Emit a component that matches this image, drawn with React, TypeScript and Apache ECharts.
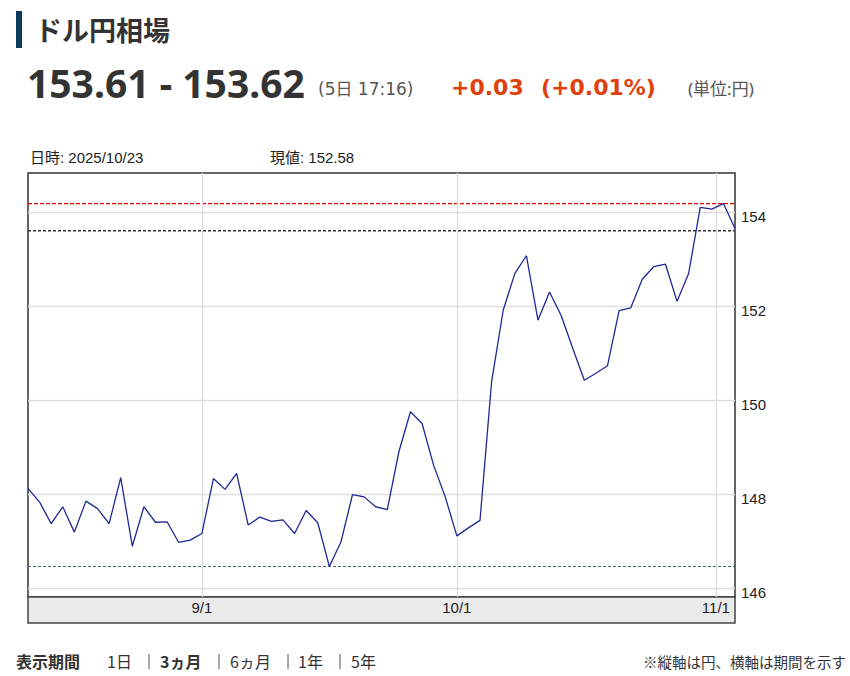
import React, { useEffect, useRef } from "react";
import * as echarts from "echarts";

// Business-day closes, 2025-08-11 .. 2025-11-04
const values = [
  148.13, 147.84, 147.38, 147.74, 147.2, 147.86, 147.7, 147.38, 148.36, 146.9,
  147.74, 147.41, 147.42, 146.98, 147.03, 147.17, 148.34, 148.11, 148.45, 147.35,
  147.52, 147.43, 147.46, 147.17, 147.66, 147.4, 146.47, 146.99, 148.0, 147.95,
  147.74, 147.68, 148.91, 149.76, 149.51, 148.62, 147.95, 147.12, 147.29, 147.45,
  150.4, 151.92, 152.7, 153.08, 151.71, 152.31, 151.81, 151.11, 150.43, 150.58,
  150.74, 151.91, 151.97, 152.58, 152.85, 152.9, 152.11, 152.7, 154.11, 154.07,
  154.19, 153.66,
];
const tickLabels = ["9/1", "10/1", "11/1"];
const tickPositions = [15, 37, 59.35];
const yTicks = [146, 148, 150, 152, 154];
const yMin = 145.82;
const yMax = 154.84;
const currentBid = 153.61;

const navItems = [
  { text: "表示期間", x: 16, bold: true },
  { text: "1日", x: 107, bold: false },
  { text: "3ヵ月", x: 160, bold: true },
  { text: "6ヵ月", x: 230, bold: false },
  { text: "1年", x: 298, bold: false },
  { text: "5年", x: 351, bold: false },
];
const navSeparators = [149, 219, 288, 340];

const SANS = "'Noto Sans', 'Noto Sans CJK JP', sans-serif";
const WIDE = "'DejaVu Sans', 'Noto Sans CJK JP', sans-serif";
const ARIAL = "'Liberation Sans', 'Noto Sans CJK JP', sans-serif";
const CJK = "'Noto Sans CJK JP', sans-serif";

export default function App() {
  const ref = useRef<HTMLDivElement>(null);
  useEffect(() => {
    document.body.style.margin = "0";
    const chart = echarts.init(ref.current!, null, { renderer: "svg" });
    const data = values.map((v, i) => [i, v]);
    const lastIdx = values.length - 1;
    const graphics: any[] = [
      { type: "rect", shape: { x: 16, y: 11, width: 6, height: 37 }, style: { fill: "#0e3b5c" } },
      { type: "text", x: 35, y: 29, style: { text: "ドル円相場", font: `bold 27px ${CJK}`, fill: "#333", verticalAlign: "middle" } },
      { type: "text", x: 27, y: 82, style: { text: "153.61 - 153.62", font: `bold 39px ${SANS}`, fill: "#333", verticalAlign: "middle" } },
      { type: "text", x: 318, y: 89, style: { text: "(5日 17:16)", font: `17px ${WIDE}`, fill: "#555", verticalAlign: "middle" } },
      { type: "text", x: 451, y: 87, style: { text: "+0.03", font: `bold 22px ${WIDE}`, fill: "#e0400c", verticalAlign: "middle" } },
      { type: "text", x: 541, y: 87, style: { text: "(+0.01%)", font: `bold 22px ${WIDE}`, fill: "#e0400c", verticalAlign: "middle" } },
      { type: "text", x: 688, y: 88, style: { text: "(単位:円)", font: `17px ${SANS}`, fill: "#555", verticalAlign: "middle" } },
      { type: "text", x: 30, y: 157, style: { text: "日時: 2025/10/23", font: `15px ${ARIAL}`, fill: "#222", verticalAlign: "middle" } },
      { type: "text", x: 270, y: 157, style: { text: "現値: 152.58", font: `15px ${ARIAL}`, fill: "#222", verticalAlign: "middle" } },
      { type: "rect", z: 0, shape: { x: 28, y: 597, width: 707, height: 26 }, style: { fill: "#ebebeb", stroke: "#444", lineWidth: 1.5 } },
      { type: "text", x: 643, y: 661, style: { text: "※縦軸は円、横軸は期間を示す", font: `14.5px ${CJK}`, fill: "#333", verticalAlign: "middle" } },
      ...navItems.map((n) => ({
        type: "text",
        x: n.x,
        y: 661,
        style: {
          text: n.text,
          font: `${n.bold ? "bold " : ""}16px ${CJK}`,
          fill: "#333",
          verticalAlign: "middle",
        },
      })),
      ...navSeparators.map((x) => ({
        type: "line",
        shape: { x1: x, y1: 654, x2: x, y2: 669 },
        style: { stroke: "#555", lineWidth: 1 },
      })),
    ];
    const level = (v: number, color: string, width: number, dash: number[]) => ({
      type: "line",
      data: [
        [0, v],
        [lastIdx, v],
      ],
      silent: true,
      z: 4,
      showSymbol: false,
      symbol: "none",
      lineStyle: { color, width, type: dash },
    });
    chart.setOption({
      animation: false,
      backgroundColor: "#fff",
      grid: {
        left: 28,
        top: 173,
        width: 707,
        height: 424,
        show: true,
        borderColor: "#333",
        borderWidth: 1.5,
        backgroundColor: "#fff",
        containLabel: false,
      },
      xAxis: {
        type: "value",
        min: 0,
        max: lastIdx,
        z: 10,
        axisLine: { show: false },
        axisTick: { show: false },
        splitLine: { show: false },
        axisLabel: {
          customValues: tickPositions,
          formatter: (v: number) => {
            const i = tickPositions.findIndex((p) => Math.abs(p - v) < 0.01);
            return i >= 0 ? tickLabels[i] : "";
          },
          margin: 3,
          fontSize: 15,
          fontFamily: ARIAL,
          color: "#222",
        },
      },
      yAxis: {
        type: "value",
        position: "right",
        min: yMin,
        max: yMax,
        axisLine: { show: false },
        splitLine: { show: false },
        axisTick: { show: true, customValues: yTicks, length: 2, lineStyle: { color: "#9ab" } },
        axisLabel: {
          customValues: yTicks,
          margin: 6,
          fontSize: 15,
          fontFamily: ARIAL,
          color: "#222",
          verticalAlign: "top",
          lineHeight: 8,
        },
      },
      graphic: graphics,
      series: [
        {
          type: "line",
          data,
          silent: true,
          z: 1,
          showSymbol: false,
          lineStyle: { opacity: 0 },
          markLine: {
            silent: true,
            symbol: "none",
            label: { show: false },
            lineStyle: { color: "#dedede", width: 1.3, type: "solid" },
            data: [
              ...yTicks.map((v) => ({ yAxis: v })),
              ...tickPositions.map((v) => ({ xAxis: v })),
            ],
          },
        },
        level(Math.max(...values), "#e00000", 1.3, [4, 2]),
        level(currentBid, "#333333", 1.6, [3, 2]),
        level(Math.min(...values), "#4f6088", 1.1, [3, 2]),
        {
          type: "line",
          data,
          z: 5,
          showSymbol: false,
          lineStyle: { color: "#1f2896", width: 1.3 },
        },
      ],
    });
    return () => chart.dispose();
  }, []);
  return (
    <div
      ref={ref}
      style={{ width: 850, height: 676, position: "absolute", left: 0, top: 0, background: "#fff" }}
    />
  );
}
